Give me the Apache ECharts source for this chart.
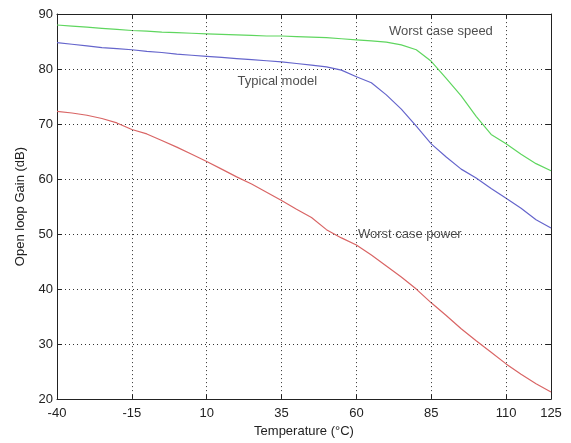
<!DOCTYPE html>
<html>
<head>
<meta charset="utf-8">
<script src="https://cdn.jsdelivr.net/npm/echarts@6/dist/echarts.min.js"></script>
<style>
  html, body { margin: 0; padding: 0; background: #fff; }
  #main { width: 571px; height: 443px; }
</style>
</head>
<body>
<div id="main"></div>
<script>
// temperatures (°C), sampled every 5 degrees
var temps = [-40, -35, -30, -25, -20, -15, -10, -5, 0, 5, 10, 15, 20, 25, 30, 35, 40,
    45, 50, 55, 60, 65, 70, 75, 80, 85, 90, 95, 100, 105, 110, 115, 120, 125];

// open loop gain (dB)
var worstSpeed = [88.0, 87.8, 87.6, 87.4, 87.2, 87.0, 86.9, 86.7, 86.6, 86.5, 86.4, 86.3,
    86.2, 86.1, 86.0, 86.0, 85.9, 85.8, 85.7, 85.5, 85.3, 85.1, 84.9, 84.4, 83.5, 81.4,
    78.3, 75.1, 71.4, 68.1, 66.4, 64.5, 62.8, 61.5];
var typical = [84.8, 84.5, 84.2, 83.9, 83.7, 83.5, 83.2, 83.0, 82.7, 82.5, 82.3, 82.1,
    81.9, 81.7, 81.5, 81.3, 81.0, 80.7, 80.4, 79.8, 78.6, 77.5, 75.3, 72.7, 69.6, 66.4,
    64.0, 61.8, 60.2, 58.3, 56.5, 54.7, 52.6, 51.1];
var worstPower = [72.3, 72.0, 71.6, 71.0, 70.2, 69.0, 68.2, 67.0, 65.8, 64.5, 63.2, 61.8,
    60.4, 59.1, 57.6, 56.1, 54.5, 53.0, 50.8, 49.3, 48.0, 46.2, 44.2, 42.2, 40.0, 37.5,
    35.2, 32.8, 30.6, 28.5, 26.4, 24.5, 22.8, 21.3];

// tick values
var xTicks = [-40, -15, 10, 35, 60, 85, 110, 125];
var xGrid = [-15, 10, 35, 60, 85, 110];

// curve annotations (left edge of text, in data units)
var noteText = ['Worst case speed', 'Typical model', 'Worst case power'];
var noteX = [70.9, 20.3, 60.5];
var noteY = [86.9, 77.7, 50.0];

function pairs(xs, ys) {
    var out = [];
    for (var i = 0; i < xs.length; i++) {
        out.push([xs[i], ys[i]]);
    }
    return out;
}

var FONT = 'Liberation Sans';
var gridStyle = { color: '#333', type: [1, 3], width: 1 };
var frame = { show: true, onZero: false, lineStyle: { color: '#222', width: 1 } };

var chart = echarts.init(document.getElementById('main'));

var notes = [];
for (var i = 0; i < noteText.length; i++) {
    notes.push({ name: noteText[i], value: [noteX[i], noteY[i]] });
}
// vertical dotted grid lines at the x ticks
var vLines = [];
for (var j = 0; j < xGrid.length; j++) {
    vLines.push({ xAxis: xGrid[j] });
}

var option = {
    backgroundColor: '#fff',
    animation: false,
    grid: { left: 57, right: 20, top: 14, bottom: 40 },
    xAxis: [{
        type: 'value',
        min: -40,
        max: 125,
        name: 'Temperature (°C)',
        nameLocation: 'middle',
        nameGap: 22,
        nameTextStyle: { fontFamily: FONT, fontSize: 13, color: '#222' },
        axisLine: frame,
        axisTick: { show: true, inside: true, length: 5, customValues: xTicks, lineStyle: { color: '#222' } },
        axisLabel: { customValues: xTicks, margin: 8, fontFamily: FONT, fontSize: 13, color: '#222' },
        splitLine: { show: false }
    }, {
        type: 'value',
        position: 'top',
        min: -40,
        max: 125,
        axisLine: frame,
        axisTick: { show: true, inside: true, length: 5, customValues: xTicks, lineStyle: { color: '#222' } },
        axisLabel: { show: false },
        splitLine: { show: false }
    }],
    yAxis: [{
        type: 'value',
        min: 20,
        max: 90,
        interval: 10,
        name: 'Open loop Gain (dB)',
        nameLocation: 'middle',
        nameGap: 30,
        nameTextStyle: { fontFamily: FONT, fontSize: 13, color: '#222' },
        axisLine: frame,
        axisTick: { show: true, inside: true, length: 5, lineStyle: { color: '#222' } },
        axisLabel: { margin: 4, fontFamily: FONT, fontSize: 13, color: '#222' },
        splitLine: { show: true, lineStyle: gridStyle }
    }, {
        type: 'value',
        position: 'right',
        min: 20,
        max: 90,
        interval: 10,
        axisLine: frame,
        axisTick: { show: true, inside: true, length: 5, lineStyle: { color: '#222' } },
        axisLabel: { show: false },
        splitLine: { show: false }
    }],
    series: [{
        name: 'Worst case speed',
        type: 'line',
        data: pairs(temps, worstSpeed),
        showSymbol: false,
        lineStyle: { color: '#5fd65f', width: 1.2 },
        itemStyle: { color: '#5fd65f' }
    }, {
        name: 'Typical model',
        type: 'line',
        data: pairs(temps, typical),
        showSymbol: false,
        lineStyle: { color: '#6565cc', width: 1.2 },
        itemStyle: { color: '#6565cc' }
    }, {
        name: 'Worst case power',
        type: 'line',
        data: pairs(temps, worstPower),
        showSymbol: false,
        lineStyle: { color: '#d96565', width: 1.2 },
        itemStyle: { color: '#d96565' }
    }, {
        name: 'notes',
        type: 'scatter',
        data: notes,
        symbolSize: 0,
        silent: true,
        z: 1,
        label: {
            show: true,
            position: 'right',
            distance: 0,
            formatter: '{b}',
            fontFamily: FONT,
            fontSize: 13,
            color: '#222'
        },
        markLine: {
            silent: true,
            symbol: 'none',
            label: { show: false },
            lineStyle: gridStyle,
            emphasis: { disabled: true },
            data: vLines
        }
    }]
};

chart.setOption(option);
</script>
</body>
</html>
